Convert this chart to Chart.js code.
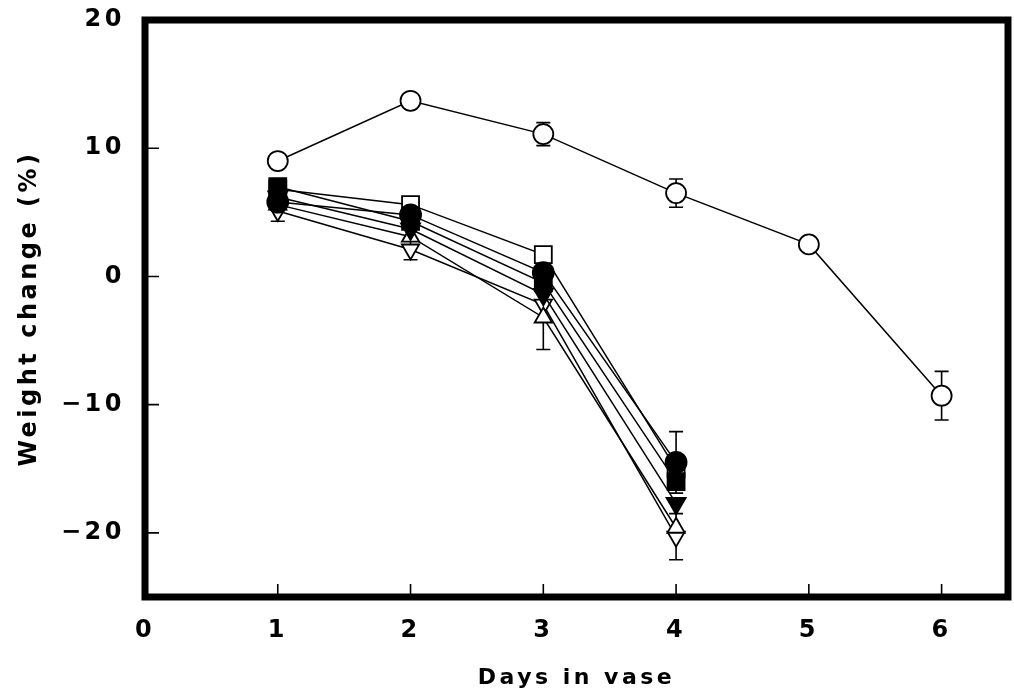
<!DOCTYPE html>
<html>
<head>
<meta charset="utf-8">
<script src="https://cdn.jsdelivr.net/npm/chart.js@4/dist/chart.umd.min.js"></script>
<style>
  html, body { margin: 0; padding: 0; background: #fff; }
  canvas { display: block; }
</style>
</head>
<body>
<canvas id="weightChart" width="1014" height="692"></canvas>
<script>
// days on the x axis
const controlDays = [1, 2, 3, 4, 5, 6];
const treatDays = [1, 2, 3, 4];

// weight change (%)
const control = [9.0, 13.7, 11.1, 6.5, 2.5, -9.3];
const controlErr = [0, 0, 0.9, 1.1, 0, 1.9];

const openSquare = [6.8, 5.6, 1.7, -15.0];
const openSquareErr = [0.8, 0.3, 0.3, 0];
const filledSquare = [7.0, 4.3, -0.5, -16.0];
const filledCircle = [5.8, 4.8, 0.3, -14.5];
const filledCircleErr = [0, 0, 0, 2.4];
const filledTriDown = [6.2, 3.7, -1.4, -17.7];
const openTriUp = [5.6, 3.1, -3.2, -19.6];
const openTriUpErr = [0, 0, 2.5, 0];
const openTriDown = [5.1, 2.1, -2.2, -20.3];
const openTriDownErr = [0.8, 0.8, 0, 1.8];

const xTicks = [0, 1, 2, 3, 4, 5, 6];
const yTicks = [20, 10, 0, -10, -20];

function pts(days, vals) {
  return days.map((d, i) => ({ x: d, y: vals[i] }));
}

function series(days, vals, errs, style, filled, radius, rotation) {
  return {
    data: pts(days, vals),
    errors: errs,
    borderColor: '#000',
    borderWidth: 1.5,
    pointStyle: style,
    pointRotation: rotation || 0,
    pointRadius: radius,
    pointHoverRadius: radius,
    pointBorderWidth: 1.8,
    pointBackgroundColor: filled ? '#000' : '#fff',
    pointBorderColor: '#000',
    fill: false,
    tension: 0
  };
}

// error bars under the points
const errorBars = {
  id: 'errorBars',
  beforeDatasetsDraw(chart) {
    const ctx = chart.ctx;
    const xs = chart.scales.x;
    const ys = chart.scales.y;
    ctx.save();
    ctx.strokeStyle = '#000';
    ctx.lineWidth = 1.6;
    chart.data.datasets.forEach(ds => {
      if (!ds.errors) return;
      ds.data.forEach((p, i) => {
        const e = ds.errors[i];
        if (!e) return;
        const px = xs.getPixelForValue(p.x);
        const top = ys.getPixelForValue(p.y + e);
        const bot = ys.getPixelForValue(p.y - e);
        ctx.beginPath();
        ctx.moveTo(px, top); ctx.lineTo(px, bot);
        ctx.moveTo(px - 7, top); ctx.lineTo(px + 7, top);
        ctx.moveTo(px - 7, bot); ctx.lineTo(px + 7, bot);
        ctx.stroke();
      });
    });
    ctx.restore();
  }
};

// thick frame and inward ticks
const frame = {
  id: 'frame',
  beforeDraw(chart) {
    chart.ctx.letterSpacing = '3.5px';
  },
  afterDraw(chart) {
    const ctx = chart.ctx;
    const a = chart.chartArea;
    const xs = chart.scales.x;
    const ys = chart.scales.y;
    ctx.save();
    ctx.strokeStyle = '#000';
    ctx.lineWidth = 1.6;
    ctx.beginPath();
    xs.ticks.forEach(t => {
      const px = xs.getPixelForValue(t.value);
      ctx.moveTo(px, a.bottom); ctx.lineTo(px, a.bottom - 13);
    });
    ys.ticks.forEach(t => {
      const py = ys.getPixelForValue(t.value);
      ctx.moveTo(a.left, py); ctx.lineTo(a.left + 14, py);
    });
    ctx.stroke();
    ctx.lineWidth = 7;
    ctx.strokeRect(a.left, a.top, a.right - a.left, a.bottom - a.top);
    ctx.restore();
    ctx.letterSpacing = '0px';
  }
};

const tickFont = { family: 'DejaVu Sans', size: 24, weight: 'bold' };
const xTitleFont = { family: 'DejaVu Sans', size: 22, weight: 'bold' };
const yTitleFont = { family: 'DejaVu Sans', size: 24, weight: 'bold' };

new Chart(document.getElementById('weightChart'), {
  type: 'line',
  data: {
    datasets: [
      series(controlDays, control, controlErr, 'circle', false, 10),
      series(treatDays, filledCircle, filledCircleErr, 'circle', true, 10.5),
      series(treatDays, filledSquare, null, 'rect', true, 12),
      series(treatDays, filledTriDown, null, 'triangle', true, 11, 180),
      series(treatDays, openSquare, openSquareErr, 'rect', false, 12),
      series(treatDays, openTriUp, openTriUpErr, 'triangle', false, 10),
      series(treatDays, openTriDown, openTriDownErr, 'triangle', false, 10, 180)
    ]
  },
  options: {
    responsive: false,
    animation: false,
    devicePixelRatio: 1,
    layout: { autoPadding: false, padding: { top: 20, right: 6, left: 0, bottom: 0 } },
    plugins: { legend: { display: false }, tooltip: { enabled: false } },
    scales: {
      x: {
        type: 'linear',
        min: 0,
        max: 6.5,
        afterBuildTicks: s => { s.ticks = xTicks.map(v => ({ value: v })); },
        afterFit: s => { s.height = 95; s.paddingLeft = 0; s.paddingRight = 0; },
        grid: { display: false, drawTicks: false },
        border: { display: false },
        ticks: { color: '#000', font: tickFont, padding: 19 },
        title: { display: true, text: 'Days in vase', color: '#000', font: xTitleFont, padding: { top: 0, bottom: 1 } }
      },
      y: {
        type: 'linear',
        min: -25,
        max: 20,
        afterBuildTicks: s => { s.ticks = yTicks.map(v => ({ value: v })); },
        afterFit: s => { s.width = 145; s.paddingTop = 0; s.paddingBottom = 0; },
        grid: { display: false, drawTicks: false },
        border: { display: false },
        ticks: {
          color: '#000',
          font: tickFont,
          padding: 20,
          callback: v => (v < 0 ? '\u2212' + Math.abs(v) : String(v))
        },
        title: { display: true, text: 'Weight change (%)', color: '#000', font: yTitleFont, padding: { top: 15, bottom: 0 } }
      }
    }
  },
  plugins: [errorBars, frame]
});
</script>
</body>
</html>
